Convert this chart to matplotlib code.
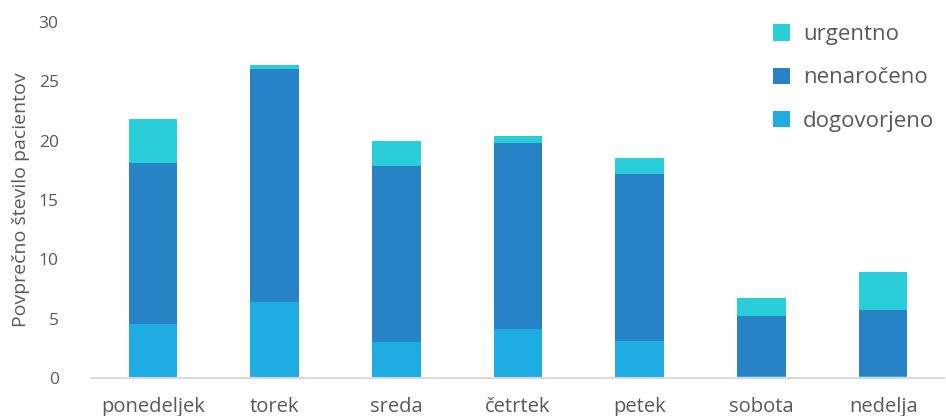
import numpy as np
import matplotlib.pyplot as plt

days = ["ponedeljek", "torek", "sreda", "četrtek", "petek", "sobota", "nedelja"]
dogovorjeno = [4.55, 6.4, 3.0, 4.1, 3.1, 0.2, 0.2]
nenaroceno = [13.55, 19.6, 14.9, 15.7, 14.1, 5.0, 5.5]
urgentno = [3.7, 0.4, 2.1, 0.6, 1.3, 1.5, 3.2]

c_dog = "#1FACE2"
c_nen = "#2782C6"
c_urg = "#29CED8"
txt = "#595959"

plt.rcParams['font.family'] = ['Open Sans', 'DejaVu Sans']

fig = plt.figure(figsize=(9.46, 4.16), dpi=100)
ax = fig.add_axes([92 / 946, 38 / 416, 852 / 946, 356 / 416])

x = np.arange(len(days))
w = 0.4
d = np.array(dogovorjeno)
n = np.array(nenaroceno)
u = np.array(urgentno)
b1 = ax.bar(x, d, w, color=c_dog, label="dogovorjeno")
b2 = ax.bar(x, n, w, bottom=d, color=c_nen, label="nenaročeno")
b3 = ax.bar(x, u, w, bottom=d + n, color=c_urg, label="urgentno")

ax.set_xlim(-0.5, len(days) - 0.5)
ax.set_ylim(0, 30)
ax.set_yticks(range(0, 31, 5))
ax.set_xticks(x)
ax.set_xticklabels(days, fontsize=14.5, color=txt)
ax.tick_params(axis='y', length=0, pad=24, labelsize=12.5, labelcolor=txt)
ax.tick_params(axis='x', length=0, pad=14)
for s in ["top", "right", "left"]:
    ax.spines[s].set_visible(False)
ax.spines["bottom"].set_color("#D9D9D9")
ax.spines["bottom"].set_linewidth(1.5)
ax.set_ylabel("Povprečno število pacientov", fontsize=14, color=txt, labelpad=6)

leg = ax.legend(handles=[b3, b2, b1], loc="upper right", bbox_to_anchor=(1.012, 1.05),
                frameon=False, fontsize=16, labelspacing=1.0, handlelength=0.75,
                handleheight=0.75, handletextpad=0.6)
for t in leg.get_texts():
    t.set_color(txt)

fig.savefig("out.png", dpi=100)
